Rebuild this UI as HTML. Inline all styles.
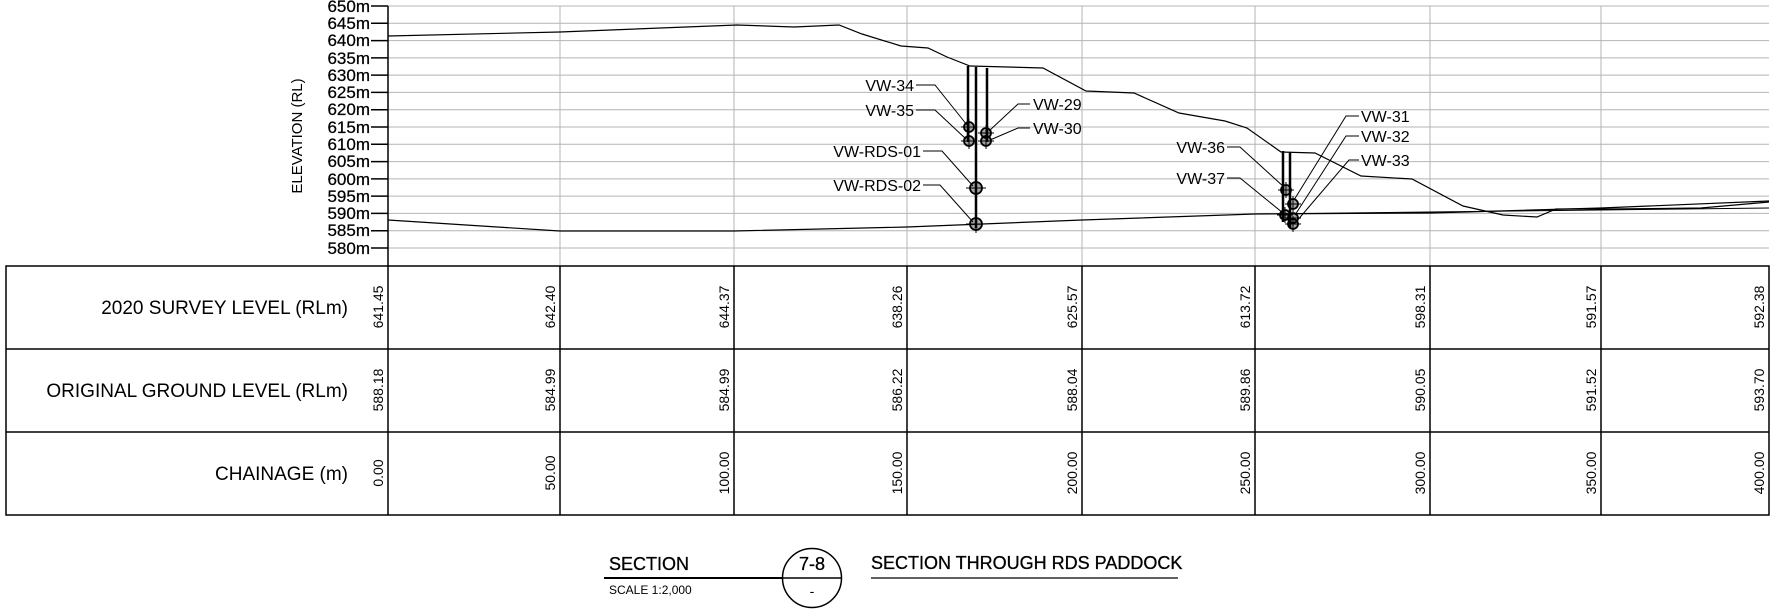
<!DOCTYPE html>
<html><head><meta charset="utf-8"><style>
html,body{margin:0;padding:0;background:#fff;}
svg{display:block;}
text{font-family:"Liberation Sans",sans-serif;fill:#000;}
</style></head><body>
<svg width="1778" height="616" viewBox="0 0 1778 616" xmlns="http://www.w3.org/2000/svg">
<g stroke="#b4b4b4" stroke-width="1">
<line x1="388" y1="6" x2="1769" y2="6"/><line x1="388" y1="23.3" x2="1769" y2="23.3"/>
<line x1="388" y1="40.6" x2="1769" y2="40.6"/><line x1="388" y1="57.9" x2="1769" y2="57.9"/>
<line x1="388" y1="75.1" x2="1769" y2="75.1"/><line x1="388" y1="92.4" x2="1769" y2="92.4"/>
<line x1="388" y1="109.7" x2="1769" y2="109.7"/><line x1="388" y1="127" x2="1769" y2="127"/>
<line x1="388" y1="144.3" x2="1769" y2="144.3"/><line x1="388" y1="161.6" x2="1769" y2="161.6"/>
<line x1="388" y1="178.9" x2="1769" y2="178.9"/><line x1="388" y1="196.1" x2="1769" y2="196.1"/>
<line x1="388" y1="213.4" x2="1769" y2="213.4"/><line x1="388" y1="230.7" x2="1769" y2="230.7"/>
<line x1="388" y1="248" x2="1769" y2="248"/>
<line x1="560" y1="6" x2="560" y2="266"/><line x1="734" y1="6" x2="734" y2="266"/>
<line x1="907" y1="6" x2="907" y2="266"/><line x1="1082" y1="6" x2="1082" y2="266"/>
<line x1="1255" y1="6" x2="1255" y2="266"/><line x1="1430" y1="6" x2="1430" y2="266"/>
<line x1="1601" y1="6" x2="1601" y2="266"/>
</g>
<g stroke="#000" stroke-width="1.5">
<line x1="388" y1="6" x2="388" y2="266"/>
<line x1="371" y1="6" x2="388" y2="6"/><line x1="371" y1="23.3" x2="388" y2="23.3"/>
<line x1="371" y1="40.6" x2="388" y2="40.6"/><line x1="371" y1="57.9" x2="388" y2="57.9"/>
<line x1="371" y1="75.1" x2="388" y2="75.1"/><line x1="371" y1="92.4" x2="388" y2="92.4"/>
<line x1="371" y1="109.7" x2="388" y2="109.7"/><line x1="371" y1="127" x2="388" y2="127"/>
<line x1="371" y1="144.3" x2="388" y2="144.3"/><line x1="371" y1="161.6" x2="388" y2="161.6"/>
<line x1="371" y1="178.9" x2="388" y2="178.9"/><line x1="371" y1="196.1" x2="388" y2="196.1"/>
<line x1="371" y1="213.4" x2="388" y2="213.4"/><line x1="371" y1="230.7" x2="388" y2="230.7"/>
<line x1="371" y1="248" x2="388" y2="248"/>
</g>
<g font-size="17" text-anchor="end" stroke="#000" stroke-width="0.25">
<text x="370" y="12">650m</text><text x="370" y="29">645m</text><text x="370" y="46">640m</text>
<text x="370" y="64">635m</text><text x="370" y="81">630m</text><text x="370" y="98">625m</text>
<text x="370" y="115">620m</text><text x="370" y="133">615m</text><text x="370" y="150">610m</text>
<text x="370" y="167">605m</text><text x="370" y="185">600m</text><text x="370" y="202">595m</text>
<text x="370" y="219">590m</text><text x="370" y="236">585m</text><text x="370" y="254">580m</text>
</g>
<text x="0" y="0" font-size="15" text-anchor="middle" transform="translate(302,136) rotate(-90)">ELEVATION (RL)</text>
<polyline fill="none" stroke="#000" stroke-width="1.2" points="388,36 560,32 737,25 794,27 839,25 862,34 901,46 928,48 947,57 970,66 1043,68 1086,91 1134,93 1179,113 1225,121 1247,128 1281,152 1315,153 1361,176 1412,179 1463,206 1503,215 1537,217 1556,209 1610,209 1701,208 1769,202"/>
<polyline fill="none" stroke="#000" stroke-width="1.2" points="388,220 560,231 734,231 907,227 1082,220 1255,214 1430,213 1601,208 1769,201"/>
<line x1="1255" y1="214" x2="1769" y2="208" stroke="#000" stroke-width="1"/>
<g stroke="#000" stroke-width="2.5">
<line x1="968" y1="66" x2="968" y2="142"/><line x1="976" y1="67" x2="976" y2="228"/>
<line x1="987" y1="68" x2="987" y2="142"/>
</g>
<g stroke="#000" stroke-width="1.8" fill="rgba(0,0,0,0.35)">
<circle cx="969" cy="127" r="5"/><circle cx="969" cy="141" r="5"/>
<circle cx="986" cy="133" r="5"/><circle cx="986" cy="141" r="5"/>
<circle cx="976" cy="188" r="6"/><circle cx="976" cy="224" r="6"/>
</g>
<g stroke="#000" stroke-width="1" fill="none">
<path d="M961 127h16M969 119v16M961 141h16M969 133v16M978 133h16M986 125v16M978 141h16M986 133v16M966 188h20M976 179v18M966 224h20M976 215v18"/>
<polyline points="916,85 935,85 967,125"/><polyline points="916,110 935,110 966,139"/>
<polyline points="923,151 942,151 973,186"/><polyline points="923,185 940,185 973,222"/>
<polyline points="1030,104 1018,104 989,131"/><polyline points="1030,128 1018,128 990,140"/>
</g>
<g font-size="16">
<text x="914" y="91" text-anchor="end">VW-34</text><text x="914" y="116" text-anchor="end">VW-35</text>
<text x="921" y="157" text-anchor="end">VW-RDS-01</text><text x="921" y="191" text-anchor="end">VW-RDS-02</text>
<text x="1033" y="110">VW-29</text><text x="1033" y="134">VW-30</text>
</g>
<g stroke="#000" stroke-width="2.5">
<line x1="1283" y1="151" x2="1283" y2="222"/><line x1="1290" y1="152" x2="1290" y2="228"/>
</g>
<g stroke="#000" stroke-width="1.8" fill="rgba(0,0,0,0.35)">
<circle cx="1286" cy="190" r="5"/><circle cx="1285" cy="215" r="5"/>
<circle cx="1293" cy="204" r="5"/><circle cx="1293" cy="218" r="5"/><circle cx="1293" cy="224" r="5"/>
</g>
<g stroke="#000" stroke-width="1" fill="none">
<path d="M1278 190h16M1286 182v16M1277 215h16M1285 207v16M1285 204h16M1293 196v16M1285 218h16M1285 224h16M1293 216v16"/>
<polyline points="1227,147 1240,147 1284,187"/><polyline points="1227,178 1240,178 1283,213"/>
<polyline points="1359,116 1346,116 1294,200"/><polyline points="1359,136 1346,136 1295,215"/>
<polyline points="1359,160 1349,160 1296,222"/>
</g>
<g font-size="16">
<text x="1225" y="153" text-anchor="end">VW-36</text><text x="1225" y="184" text-anchor="end">VW-37</text>
<text x="1361" y="122">VW-31</text><text x="1361" y="142">VW-32</text><text x="1361" y="166">VW-33</text>
</g>
<g stroke="#000" stroke-width="1.5" fill="none">
<rect x="6" y="266" width="1763" height="249"/>
<line x1="6" y1="349" x2="1769" y2="349"/><line x1="6" y1="432" x2="1769" y2="432"/>
<line x1="388" y1="266" x2="388" y2="515"/><line x1="560" y1="266" x2="560" y2="515"/>
<line x1="734" y1="266" x2="734" y2="515"/><line x1="907" y1="266" x2="907" y2="515"/>
<line x1="1082" y1="266" x2="1082" y2="515"/><line x1="1255" y1="266" x2="1255" y2="515"/>
<line x1="1430" y1="266" x2="1430" y2="515"/><line x1="1601" y1="266" x2="1601" y2="515"/>
</g>
<g font-size="19" text-anchor="end">
<text x="348" y="314">2020 SURVEY LEVEL (RLm)</text>
<text x="348" y="397">ORIGINAL GROUND LEVEL (RLm)</text>
<text x="348" y="480">CHAINAGE (m)</text>
</g>
<g font-size="14" text-anchor="middle">
<text transform="translate(383,307) rotate(-90)">641.45</text>
<text transform="translate(555,307) rotate(-90)">642.40</text>
<text transform="translate(729,307) rotate(-90)">644.37</text>
<text transform="translate(902,307) rotate(-90)">638.26</text>
<text transform="translate(1077,307) rotate(-90)">625.57</text>
<text transform="translate(1250,307) rotate(-90)">613.72</text>
<text transform="translate(1425,307) rotate(-90)">598.31</text>
<text transform="translate(1596,307) rotate(-90)">591.57</text>
<text transform="translate(1764,307) rotate(-90)">592.38</text>
<text transform="translate(383,390) rotate(-90)">588.18</text>
<text transform="translate(555,390) rotate(-90)">584.99</text>
<text transform="translate(729,390) rotate(-90)">584.99</text>
<text transform="translate(902,390) rotate(-90)">586.22</text>
<text transform="translate(1077,390) rotate(-90)">588.04</text>
<text transform="translate(1250,390) rotate(-90)">589.86</text>
<text transform="translate(1425,390) rotate(-90)">590.05</text>
<text transform="translate(1596,390) rotate(-90)">591.52</text>
<text transform="translate(1764,390) rotate(-90)">593.70</text>
<text transform="translate(383,473) rotate(-90)">0.00</text>
<text transform="translate(555,473) rotate(-90)">50.00</text>
<text transform="translate(729,473) rotate(-90)">100.00</text>
<text transform="translate(902,473) rotate(-90)">150.00</text>
<text transform="translate(1077,473) rotate(-90)">200.00</text>
<text transform="translate(1250,473) rotate(-90)">250.00</text>
<text transform="translate(1425,473) rotate(-90)">300.00</text>
<text transform="translate(1596,473) rotate(-90)">350.00</text>
<text transform="translate(1764,473) rotate(-90)">400.00</text>
</g>
<g stroke="#000" fill="none">
<line x1="604" y1="578" x2="783" y2="578" stroke-width="2"/>
<circle cx="812" cy="578" r="29.5" stroke-width="1.5"/>
<line x1="783" y1="578" x2="841" y2="578" stroke-width="1.5"/>
<line x1="871" y1="578" x2="1178" y2="578" stroke-width="1.2"/>
</g>
<text x="609" y="570" font-size="18" stroke="#000" stroke-width="0.3">SECTION</text>
<text x="609" y="594" font-size="12">SCALE 1:2,000</text>
<text x="812" y="570" font-size="18" text-anchor="middle" stroke="#000" stroke-width="0.3">7-8</text>
<text x="812" y="596" font-size="14" text-anchor="middle">-</text>
<text x="871" y="569" font-size="18" stroke="#000" stroke-width="0.3">SECTION THROUGH RDS PADDOCK</text>
</svg>
</body></html>
